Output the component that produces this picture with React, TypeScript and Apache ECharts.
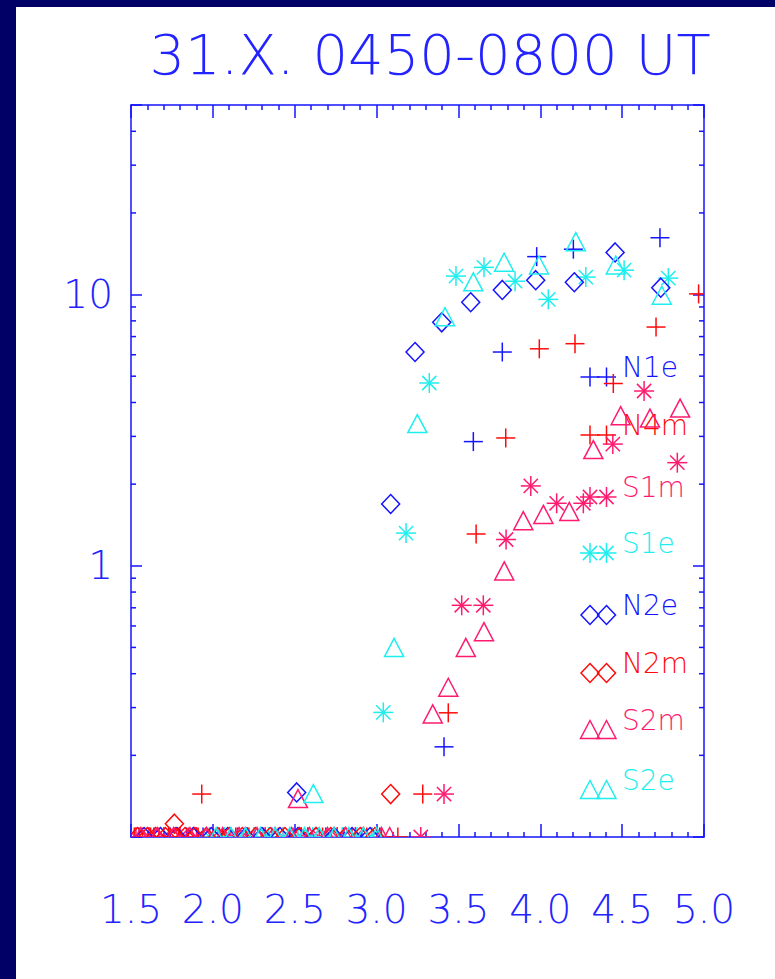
import { useEffect, useRef } from 'react';
import * as echarts from 'echarts';

// ---------- data ----------
const TITLE = '31.X. 0450-0800 UT';
const X_MIN = 1.5;
const X_MAX = 5.0;
const X_STEP = 0.5;
const Y_MIN = 0.1;
const Y_MAX = 50;
const Y_LABELS = [1, 10];
const Y_MINOR = [0.2, 0.3, 0.4, 0.5, 0.6, 0.7, 0.8, 0.9, 2, 3, 4, 5, 6, 7, 8, 9, 20, 30, 40];
const LOW = 0.1; // values at (or below) the lower limit sit on the bottom axis

const N1E = [[3.978, 13.8], [4.202, 14.7], [4.731, 16.2], [3.768, 6.14], [3.591, 2.87], [3.412, 0.215]];
const N1E_LOW = [1.55, 1.64, 1.74, 1.84, 1.94, 2.04, 2.15, 2.25, 2.36, 2.47, 2.58, 2.69, 2.8, 2.91, 3.02];

const N4M = [[3.789, 2.96], [3.994, 6.31], [4.212, 6.59], [4.707, 7.59], [4.967, 10.06], [4.446, 4.7], [3.608, 1.31], [3.438, 0.287], [3.282, 0.144], [1.932, 0.144]];
const N4M_LOW = [1.52, 1.57, 1.62, 1.67, 1.73, 1.79, 1.85, 1.91, 1.98, 2.06, 2.14, 2.22, 2.31, 2.4, 2.49, 2.58, 2.67, 2.76, 2.85, 2.94, 3.03, 3.13];

const S1M = [[4.634, 4.41], [4.443, 2.81], [4.837, 2.4], [3.942, 1.97], [4.1, 1.7], [4.263, 1.7], [3.791, 1.25], [3.52, 0.715], [3.652, 0.715], [3.412, 0.144]];
const S1M_LOW = [1.53, 1.61, 1.7, 1.8, 1.9, 2.0, 2.11, 2.21, 2.32, 2.43, 2.54, 2.65, 2.76, 2.87, 2.97, 3.27];

const S1E = [[3.485, 11.7], [3.656, 12.6], [3.846, 11.2], [4.049, 9.6], [4.278, 11.6], [4.512, 12.3], [4.782, 11.5], [3.322, 4.72], [3.18, 1.32], [3.041, 0.288]];
const S1E_LOW = [1.98, 2.07, 2.16, 2.25, 2.34, 2.43, 2.52, 2.61, 2.7, 2.79, 2.88, 2.97];

const N2E = [[3.235, 6.14], [3.398, 7.9], [3.575, 9.37], [3.768, 10.4], [3.972, 11.3], [4.208, 11.1], [4.457, 14.3], [4.736, 10.6], [3.086, 1.69], [2.512, 0.146]];
const N2E_LOW = [1.58, 1.68, 1.78, 1.88, 1.99, 2.09, 2.2, 2.3, 2.41, 2.52, 2.63, 2.74, 2.85, 2.96];

const N2M = [[3.086, 0.144], [1.765, 0.112]];
const N2M_LOW = [1.54, 1.6, 1.65, 1.71, 1.77, 1.83, 1.89, 1.96, 2.03, 2.1, 2.18, 2.26, 2.35, 2.44, 2.53, 2.63, 2.72, 2.81, 2.9, 2.99];

const S2M = [[4.491, 3.56], [4.67, 3.49], [4.854, 3.8], [4.324, 2.67], [4.177, 1.58], [4.019, 1.54], [3.896, 1.46], [3.78, 0.953], [3.656, 0.569], [3.545, 0.498], [3.438, 0.355], [3.343, 0.283], [2.52, 0.138]];
const S2M_LOW = [1.56, 1.66, 1.76, 1.86, 1.96, 2.06, 2.16, 2.27, 2.38, 2.48, 2.59, 2.7, 2.81, 2.92, 3.03, 3.08];

const S2E = [[3.591, 11.1], [3.779, 13.1], [3.992, 12.8], [4.217, 15.6], [4.461, 12.8], [4.742, 9.9], [3.418, 8.25], [3.249, 3.33], [3.107, 0.498], [2.614, 0.144]];
const S2E_LOW = [2.02, 2.11, 2.2, 2.29, 2.38, 2.47, 2.56, 2.65, 2.74, 2.83, 2.92, 3.0];

// ---------- styling ----------
const NAVY = '#000066';
const AXIS = '#1414ff';
const TEXT = '#2323ff';
const BLUE = '#1414ff';
const RED = '#ff0a0a';
const PINK = '#ff1a70';
const CYAN = '#1eeeee';
const FONT = "'DejaVu Sans', Inter, sans-serif";
const FW = 200;
const LW = 1.5;

type Shape = 'plus' | 'star' | 'diamond' | 'triangle';

const SERIES: { name: string; color: string; shape: Shape; pts: number[][]; low: number[] }[] = [
  { name: 'N1e', color: BLUE, shape: 'plus', pts: N1E, low: N1E_LOW },
  { name: 'N4m', color: RED, shape: 'plus', pts: N4M, low: N4M_LOW },
  { name: 'S1m', color: PINK, shape: 'star', pts: S1M, low: S1M_LOW },
  { name: 'S1e', color: CYAN, shape: 'star', pts: S1E, low: S1E_LOW },
  { name: 'N2e', color: BLUE, shape: 'diamond', pts: N2E, low: N2E_LOW },
  { name: 'N2m', color: RED, shape: 'diamond', pts: N2M, low: N2M_LOW },
  { name: 'S2m', color: PINK, shape: 'triangle', pts: S2M, low: S2M_LOW },
  { name: 'S2e', color: CYAN, shape: 'triangle', pts: S2E, low: S2E_LOW },
];

// legend layout (pixel rows)
const LEGEND_Y = [377, 435, 497, 553, 615, 673, 730, 790];
const LEGEND_X1 = 590;
const LEGEND_X2 = 606.5;
const LEGEND_TX = 622;

function shapeEls(shape: Shape, cx: number, cy: number, color: string): any[] {
  const st = { stroke: color, lineWidth: LW, fill: null };
  const ln = (x1: number, y1: number, x2: number, y2: number) => ({
    type: 'line',
    shape: { x1, y1, x2, y2 },
    style: st,
  });
  if (shape === 'plus') {
    const r = 9.5;
    return [ln(cx - r, cy, cx + r, cy), ln(cx, cy - r, cx, cy + r)];
  }
  if (shape === 'star') {
    const r = 10;
    const d = 7.1;
    return [
      ln(cx - r, cy, cx + r, cy),
      ln(cx, cy - r, cx, cy + r),
      ln(cx - d, cy - d, cx + d, cy + d),
      ln(cx - d, cy + d, cx + d, cy - d),
    ];
  }
  if (shape === 'diamond') {
    return [
      {
        type: 'polygon',
        shape: { points: [[cx, cy - 9.5], [cx + 9, cy], [cx, cy + 9.5], [cx - 9, cy]] },
        style: st,
      },
    ];
  }
  return [
    {
      type: 'polygon',
      shape: { points: [[cx, cy - 9.5], [cx + 9.5, cy + 8.5], [cx - 9.5, cy + 8.5]] },
      style: st,
    },
  ];
}

export default function App() {
  const ref = useRef<HTMLDivElement>(null);

  useEffect(() => {
    if (!ref.current) return;
    const chart = echarts.init(ref.current, null, { renderer: 'svg' });

    const axisLineStyle = { color: AXIS, width: LW };

    const dataSeries = SERIES.map((s) => ({
      type: 'custom',
      name: s.name,
      coordinateSystem: 'cartesian2d',
      clip: true,
      silent: true,
      encode: { x: 0, y: 1 },
      data: [...s.pts, ...s.low.map((x) => [x, LOW])],
      renderItem: (_params: any, api: any) => {
        const p = api.coord([api.value(0), api.value(1)]);
        return { type: 'group', children: shapeEls(s.shape, p[0], p[1], s.color) };
      },
      z: 3,
    }));

    const minorTickSeries = {
      type: 'custom',
      name: 'yMinor',
      coordinateSystem: 'cartesian2d',
      clip: false,
      silent: true,
      encode: { x: 0, y: 1 },
      data: Y_MINOR.map((v) => [X_MIN, v]),
      renderItem: (_params: any, api: any) => {
        const v = api.value(1);
        const l = api.coord([X_MIN, v]);
        const r = api.coord([X_MAX, v]);
        const st = { stroke: AXIS, lineWidth: LW };
        return {
          type: 'group',
          children: [
            { type: 'line', shape: { x1: l[0], y1: l[1], x2: l[0] + 5, y2: l[1] }, style: st },
            { type: 'line', shape: { x1: r[0] - 5, y1: r[1], x2: r[0], y2: r[1] }, style: st },
          ],
        };
      },
      z: 4,
    };

    const legendEls: any[] = [];
    SERIES.forEach((s, i) => {
      const y = LEGEND_Y[i];
      legendEls.push(...shapeEls(s.shape, LEGEND_X1, y, s.color));
      legendEls.push(...shapeEls(s.shape, LEGEND_X2, y, s.color));
      legendEls.push({
        type: 'text',
        x: LEGEND_TX,
        y: y - 10,
        style: {
          text: s.name,
          fill: s.color,
          fontSize: 28,
          fontFamily: FONT,
          fontWeight: FW,
          align: 'left',
          verticalAlign: 'middle',
        },
      });
    });

    const xAxisBase = {
      type: 'value',
      min: X_MIN,
      max: X_MAX,
      interval: X_STEP,
      axisLine: { show: true, onZero: false, lineStyle: axisLineStyle },
      axisTick: { show: true, inside: true, length: 13, lineStyle: axisLineStyle },
      minorTick: { show: true, splitNumber: 5, length: 5, lineStyle: axisLineStyle },
      splitLine: { show: false },
      minorSplitLine: { show: false },
    };

    const yAxisBase = {
      type: 'log',
      logBase: 10,
      min: Y_MIN,
      max: Y_MAX,
      axisLine: { show: true, onZero: false, lineStyle: axisLineStyle },
      axisTick: { show: true, inside: true, length: 11, lineStyle: axisLineStyle },
      splitLine: { show: false },
    };

    chart.setOption({
      animation: false,
      backgroundColor: '#ffffff',
      grid: { left: 131, right: 71, top: 105, bottom: 142, containLabel: false },
      xAxis: [
        {
          ...xAxisBase,
          position: 'bottom',
          axisLabel: {
            show: true,
            margin: 53,
            color: TEXT,
            fontSize: 39,
            fontFamily: FONT,
            fontWeight: FW,
            showMinLabel: true,
            showMaxLabel: true,
            formatter: (v: number) => v.toFixed(1),
          },
        },
        { ...xAxisBase, position: 'top', axisLabel: { show: false } },
      ],
      yAxis: [
        {
          ...yAxisBase,
          position: 'left',
          axisLabel: {
            show: true,
            margin: 18,
            color: TEXT,
            fontSize: 39,
            fontFamily: FONT,
            fontWeight: FW,
            padding: [18, 0, 0, 0],
            formatter: (v: number) => {
              const hit = Y_LABELS.find((t) => Math.abs(v - t) < 1e-6 * t);
              return hit !== undefined ? String(hit) : '';
            },
          },
        },
        { ...yAxisBase, position: 'right', axisLabel: { show: false } },
      ],
      graphic: [
        { type: 'rect', shape: { x: 0, y: 0, width: 775, height: 7 }, style: { fill: NAVY }, z: 10 },
        { type: 'rect', shape: { x: 0, y: 0, width: 16, height: 979 }, style: { fill: NAVY }, z: 10 },
        {
          type: 'text',
          x: 430,
          y: 54,
          style: {
            text: TITLE,
            fill: TEXT,
            fontSize: 56,
            fontFamily: FONT,
            fontWeight: FW,
            align: 'center',
            verticalAlign: 'middle',
          },
        },
        { type: 'group', children: legendEls },
      ],
      series: [...dataSeries, minorTickSeries],
    });

    return () => chart.dispose();
  }, []);

  return (
    <div
      ref={ref}
      style={{ position: 'fixed', left: 0, top: 0, width: 775, height: 979, background: '#ffffff' }}
    />
  );
}
